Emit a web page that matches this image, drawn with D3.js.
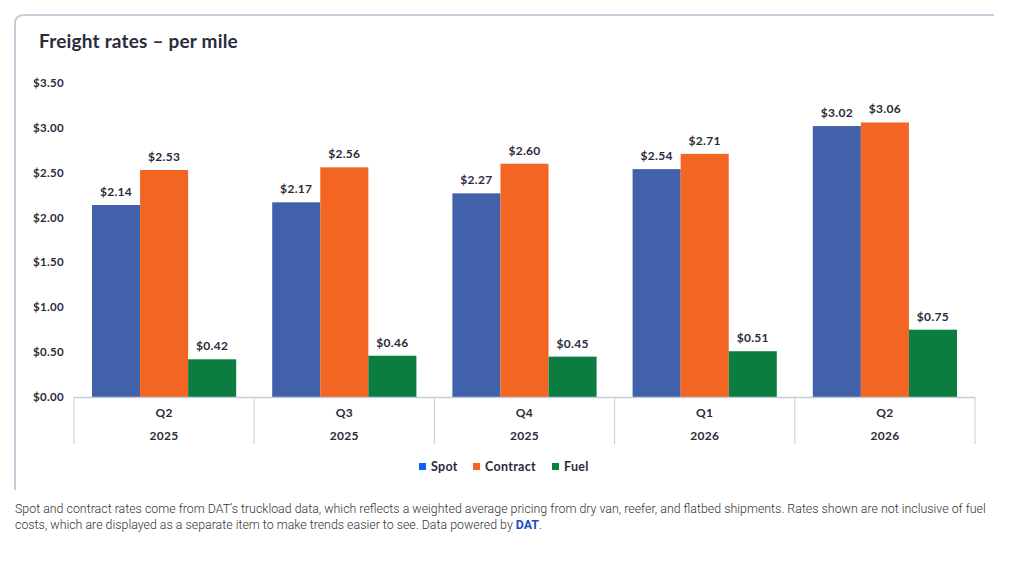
<!DOCTYPE html>
<html>
<head>
<meta charset="utf-8">
<script src="https://cdn.jsdelivr.net/npm/d3@7"></script>
<style>
  body { margin: 0; background: #fff; }
  svg { display: block; }
</style>
</head>
<body>
<svg id="chart" width="1018" height="563"></svg>
<script>
var quarters = ["Q2", "Q3", "Q4", "Q1", "Q2"];
var years = ["2025", "2025", "2025", "2026", "2026"];
var seriesNames = ["Spot", "Contract", "Fuel"];
var spot = [2.14, 2.17, 2.27, 2.54, 3.02];
var contract = [2.53, 2.56, 2.60, 2.71, 3.06];
var fuel = [0.42, 0.46, 0.45, 0.51, 0.75];
var yTicks = [0, 0.5, 1, 1.5, 2, 2.5, 3, 3.5];

var barColors = ["#4161ab", "#f26522", "#0b7d40"];
var legendColors = ["#0f62f0", "#f26522", "#0b7d40"];
var textColor = "#2b2b3a";
var lineColor = "#c8ccda";
var fontFam = "Lato, 'Open Sans', sans-serif";

var svg = d3.select("#chart");

// card border (top + left with rounded corner)
svg.append("path")
  .attr("d", "M15,490 L15,24 Q15,15 24,15 L994,15")
  .attr("fill", "none")
  .attr("stroke", lineColor)
  .attr("stroke-width", 2);

svg.append("text")
  .attr("x", 39).attr("y", 48)
  .attr("font-family", fontFam)
  .attr("font-weight", 700)
  .attr("font-size", 19)
  .attr("letter-spacing", 0.2)
  .attr("fill", textColor)
  .text("Freight rates \u2013 per mile");

var keys = d3.range(quarters.length);
var values = [spot, contract, fuel];

var x0 = d3.scaleBand().domain(keys).range([74, 975]);
var x1 = d3.scaleBand().domain(d3.range(3)).range([18, x0.bandwidth() - 18]);
var y = d3.scaleLinear().domain([0, 3.5]).range([397, 83]);

function label(sel, size) {
  return sel.attr("font-family", fontFam)
    .attr("font-weight", 700)
    .attr("font-size", size)
    .attr("letter-spacing", 0.3)
    .attr("fill", textColor);
}

// y axis labels
label(svg.append("g").selectAll("text")
  .data(yTicks).join("text")
  .attr("x", 64)
  .attr("y", function(d) { return y(d); })
  .attr("dy", "0.35em")
  .attr("text-anchor", "end"), 11.5)
  .text(function(d) { return "$" + d.toFixed(2); });

// bars
var groups = svg.append("g").selectAll("g")
  .data(keys).join("g")
  .attr("transform", function(d) { return "translate(" + x0(d) + ",0)"; });

function cells(i) { return values.map(function(s, j) { return {s: j, v: s[i]}; }); }

groups.selectAll("rect")
  .data(cells)
  .join("rect")
  .attr("x", function(d) { return x1(d.s); })
  .attr("y", function(d) { return y(d.v); })
  .attr("width", x1.bandwidth())
  .attr("height", function(d) { return y(0) - y(d.v); })
  .attr("fill", function(d) { return barColors[d.s]; });

label(groups.selectAll("text")
  .data(cells)
  .join("text")
  .attr("x", function(d) { return x1(d.s) + x1.bandwidth() / 2; })
  .attr("y", function(d) { return y(d.v) - 9; })
  .attr("text-anchor", "middle"), 12)
  .text(function(d) { return "$" + d.v.toFixed(2); });

// x axis
var axis = svg.append("g");
axis.append("line")
  .attr("x1", 74).attr("x2", 975)
  .attr("y1", y(0) + 0.5).attr("y2", y(0) + 0.5)
  .attr("stroke", lineColor).attr("stroke-width", 1.5);

axis.selectAll(".tick")
  .data(keys.concat([keys.length])).join("line")
  .attr("class", "tick")
  .attr("x1", function(d) { return d < keys.length ? x0(d) : x0.range()[1]; })
  .attr("x2", function(d) { return d < keys.length ? x0(d) : x0.range()[1]; })
  .attr("y1", y(0)).attr("y2", 444)
  .attr("stroke", lineColor).attr("stroke-width", 1);

label(axis.selectAll(".q")
  .data(keys).join("text")
  .attr("class", "q")
  .attr("x", function(d) { return x0(d) + x0.bandwidth() / 2; })
  .attr("y", 417)
  .attr("text-anchor", "middle"), 12)
  .text(function(d) { return quarters[d]; });

label(axis.selectAll(".yr")
  .data(keys).join("text")
  .attr("class", "yr")
  .attr("x", function(d) { return x0(d) + x0.bandwidth() / 2; })
  .attr("y", 440)
  .attr("text-anchor", "middle"), 12)
  .text(function(d) { return years[d]; });

// legend
var legendX = [419, 473, 552];
var legend = svg.append("g").selectAll("g")
  .data(seriesNames).join("g")
  .attr("transform", function(d, i) { return "translate(" + legendX[i] + ",467)"; });
legend.append("rect")
  .attr("x", 0).attr("y", -4).attr("width", 7).attr("height", 7)
  .attr("fill", function(d, i) { return legendColors[i]; });
label(legend.append("text")
  .attr("x", 12).attr("y", 0).attr("dy", "0.35em"), 12.5)
  .text(function(d) { return d; });

// footnote
var note = svg.append("g")
  .attr("font-family", "Roboto, sans-serif")
  .attr("font-weight", 300)
  .attr("font-size", 12.4)
  .attr("fill", "#333");
note.append("text").attr("x", 15).attr("y", 513)
  .text("Spot and contract rates come from DAT\u2019s truckload data, which reflects a weighted average pricing from dry van, reefer, and flatbed shipments. Rates shown are not inclusive of fuel");
var l2 = note.append("text").attr("x", 15).attr("y", 529);
l2.append("tspan").text("costs, which are displayed as a separate item to make trends easier to see. Data powered by ");
l2.append("tspan").attr("font-weight", 700).attr("fill", "#1a4fc4").text("DAT");
l2.append("tspan").text(".");
</script>
</body>
</html>
